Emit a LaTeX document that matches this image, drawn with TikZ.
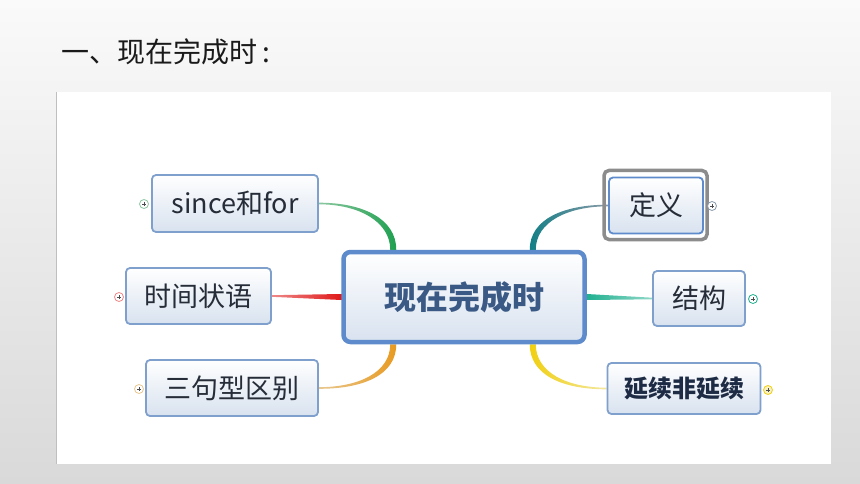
\documentclass[tikz,border=0pt]{standalone}
\usepackage{fontspec}
\setmainfont{Noto Sans CJK SC}
\usetikzlibrary{calc,backgrounds}
\definecolor{bgtop}{HTML}{FAFAFA}
\definecolor{bgbot}{HTML}{D9D9D9}
\definecolor{boxline}{HTML}{7F9FCC}
\definecolor{boxfill}{HTML}{D8E2EF}
\definecolor{mainline}{HTML}{5D8BCC}
\definecolor{txt}{HTML}{262D38}
\definecolor{maintxt}{HTML}{3A5A85}
\definecolor{navytxt}{HTML}{1E2B45}
\definecolor{titletxt}{HTML}{1A1A1A}
\definecolor{selgray}{HTML}{8C8C8C}
\definecolor{cgreen}{HTML}{1FA050}
\definecolor{cgreenl}{HTML}{8CC8A0}
\definecolor{cred}{HTML}{E01818}
\definecolor{credl}{HTML}{EE8888}
\definecolor{corange}{HTML}{E89A20}
\definecolor{corangel}{HTML}{E8C890}
\definecolor{cteal}{HTML}{137F86}
\definecolor{ctealg}{HTML}{8A9AA8}
\definecolor{cturq}{HTML}{20B090}
\definecolor{cturql}{HTML}{90D8C8}
\definecolor{cyellow}{HTML}{F0D010}
\definecolor{cyellowl}{HTML}{F4E8A0}
\tikzset{
  branch/.style={draw=boxline, line width=1.8pt, rounded corners=4pt,
    top color=white, bottom color=boxfill, inner sep=0pt,
    font=\fontsize{27}{27}\selectfont, text=txt},
  mainbox/.style={draw=mainline, line width=4.5pt, rounded corners=7pt,
    top color=white, bottom color=boxfill, inner sep=0pt,
    font=\fontsize{32}{32}\selectfont\bfseries, text=maintxt,
    minimum width=241pt, minimum height=90pt},
  plusmark/.style={circle, draw=#1, fill=white, line width=0.8pt,
    minimum size=9pt, inner sep=0pt,
    path picture={\draw[black!70, line width=0.6pt]
      ($(path picture bounding box.center)+(-2,0)$) -- ($(path picture bounding box.center)+(2,0)$)
      ($(path picture bounding box.center)+(0,-2)$) -- ($(path picture bounding box.center)+(0,2)$);}}
}
\begin{document}
\begin{tikzpicture}[x=1pt,y=-1pt]
\useasboundingbox (0,0) rectangle (860,484);
% nodes
\node[mainbox] (main) at (464,297) {现在完成时};
\node[branch, minimum width=166pt, minimum height=57pt] (since) at (235,203.5) {since和for};
\node[branch, minimum width=145pt, minimum height=56pt] (time) at (198.5,296) {时间状语};
\node[branch, minimum width=172pt, minimum height=56pt] (three) at (232,388) {三句型区别};
\node[draw=selgray, line width=3.5pt, rounded corners=5pt, minimum width=103pt, minimum height=69pt, inner sep=0pt] (sel) at (655.5,205) {};
\node[branch, draw=mainline, minimum width=94pt, minimum height=56pt] (def) at (656,205.5) {定义};
\node[branch, minimum width=92pt, minimum height=55pt] (struct) at (699,298.5) {结构};
\node[branch, minimum width=153pt, minimum height=51pt, font=\fontsize{24}{24}\selectfont\bfseries, text=navytxt] (cont) at (684,388.5) {延续非延续};
% plus marks
\node[plusmark=cgreenl] (p1) at (144,204) {};
\node[plusmark=credl] (p2) at (119,297) {};
\node[plusmark=corangel] (p3) at (139,389) {};
\node[plusmark=ctealg] (p4) at (712,206) {};
\node[plusmark=cturq] (p5) at (753,299) {};
\node[plusmark=cyellow, fill=cyellowl!60] (p6) at (768,390) {};
\node[anchor=west, font=\fontsize{28}{28}\selectfont, text=titletxt, inner sep=0pt] (title) at (61,52) {一、现在完成时\kern5pt:};
\begin{scope}[on background layer]
\shade[top color=bgtop, bottom color=bgbot] (0,0) rectangle (860,484);
\fill[white] (56,92) rectangle (831,464);
\draw[black!25, line width=0.8pt] (56.4,92) -- (56.4,464);
% since -> main (green)
\shade[left color=cgreenl, right color=cgreen]
  ($(since.east)+(0,-0.8)$) .. controls +(44,0) and +(0,-31) .. ($(main.north west)+(55,0)$)
  -- ($(main.north west)+(49,0)$) .. controls +(0,-28) and +(40,0) .. ($(since.east)+(0,0.8)$) -- cycle;
% time -> main (red)
\shade[left color=credl, right color=cred]
  ($(time.east)+(0,-0.8)$) -- ($(main.west)+(0,-3)$) -- ($(main.west)+(0,3)$) -- ($(time.east)+(0,0.8)$) -- cycle;
% three -> main (orange)
\shade[left color=corangel, right color=corange]
  ($(three.east)+(0,0.8)$) .. controls +(44,0) and +(0,31) .. ($(main.south west)+(55,0)$)
  -- ($(main.south west)+(49,0)$) .. controls +(0,28) and +(40,0) .. ($(three.east)+(0,-0.8)$) -- cycle;
% def -> main (teal)
\shade[left color=cteal, right color=ctealg]
  ($(def.west)+(0,-0.8)$) .. controls +(-44,0) and +(0,-31) .. ($(main.north east)+(-57,0)$)
  -- ($(main.north east)+(-51,0)$) .. controls +(0,-28) and +(-40,0) .. ($(def.west)+(0,0.8)$) -- cycle;
% struct -> main (turquoise)
\shade[left color=cturq, right color=cturql]
  ($(main.east)+(0,-3)$) -- ($(struct.west)+(0,-0.8)$) -- ($(struct.west)+(0,0.8)$) -- ($(main.east)+(0,3)$) -- cycle;
% cont -> main (yellow)
\shade[left color=cyellow, right color=cyellowl]
  ($(cont.west)+(0,0.8)$) .. controls +(-44,0) and +(0,31) .. ($(main.south east)+(-57,0)$)
  -- ($(main.south east)+(-51,0)$) .. controls +(0,28) and +(-40,0) .. ($(cont.west)+(0,-0.8)$) -- cycle;
\end{scope}
\end{tikzpicture}
\end{document}
